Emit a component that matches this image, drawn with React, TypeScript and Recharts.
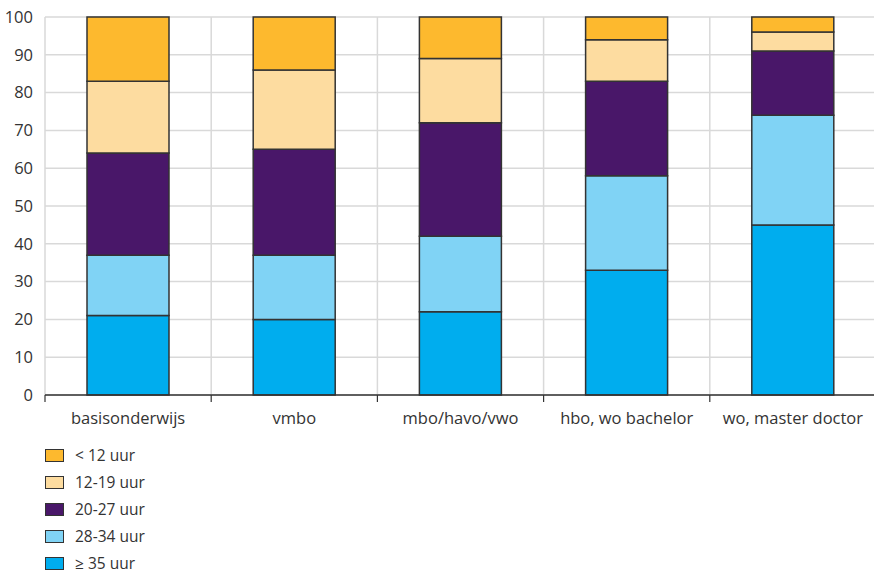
import React from 'react';
import { BarChart, Bar, XAxis, YAxis, CartesianGrid } from 'recharts';

const categories = ['basisonderwijs', 'vmbo', 'mbo/havo/vwo', 'hbo, wo bachelor', 'wo, master doctor'];
const yTicks = [0, 10, 20, 30, 40, 50, 60, 70, 80, 90, 100];

// stacked from the bottom up
const uur35plus = [21, 20, 22, 33, 45];
const uur28to34 = [16, 17, 20, 25, 29];
const uur20to27 = [27, 28, 30, 25, 17];
const uur12to19 = [19, 21, 17, 11, 5];
const uurUnder12 = [17, 14, 11, 6, 4];

const series = [
  { key: 'a', name: '≥ 35 uur', values: uur35plus, color: '#00adee' },
  { key: 'b', name: '28-34 uur', values: uur28to34, color: '#80d3f5' },
  { key: 'c', name: '20-27 uur', values: uur20to27, color: '#491769' },
  { key: 'd', name: '12-19 uur', values: uur12to19, color: '#fddca0' },
  { key: 'e', name: '< 12 uur', values: uurUnder12, color: '#fdb92e' },
];

const data = categories.map((name, i) => {
  const row: Record<string, any> = { name };
  series.forEach(s => { row[s.key] = s.values[i]; });
  return row;
});

const FONT = '"Open Sans", sans-serif';
const CHART_W = 876;
const CHART_H = 440;
const Y_AXIS_W = 45;
const BAND = (CHART_W - Y_AXIS_W) / categories.length;

const CategoryTick = (props: any) => {
  const { x, y, payload, index } = props;
  return (
    <g>
      <line x1={x - BAND / 2} y1={y} x2={x - BAND / 2} y2={y + 7} stroke="#333" strokeWidth={1.2} />
      {index === categories.length - 1 && (
        <line x1={x + BAND / 2} y1={y} x2={x + BAND / 2} y2={y + 7} stroke="#333" strokeWidth={1.2} />
      )}
      <text x={x} y={y + 17} dy="0.71em" textAnchor="middle" fill="#333" fontSize={16.5} fontFamily={FONT}>
        {payload.value}
      </text>
    </g>
  );
};

const App: React.FC = () => {
  return (
    <div style={{ position: 'absolute', left: 0, top: 0, width: 874, height: 575, overflow: 'hidden', background: '#fff' }}>
      <BarChart width={CHART_W} height={CHART_H} data={data} margin={{ top: 17, right: 0, bottom: 0, left: 0 }} barSize={82}>
        <CartesianGrid
          stroke="#d9d9d9"
          strokeWidth={1.5}
          verticalCoordinatesGenerator={({ offset }: any) =>
            categories.map((_, i) => offset.left + (i * offset.width) / categories.length)
          }
        />
        <XAxis
          dataKey="name"
          height={45}
          tickSize={0}
          tickMargin={0}
          tickLine={false}
          axisLine={{ stroke: '#333', strokeWidth: 1.5 }}
          tick={<CategoryTick />}
          interval={0}
        />
        <YAxis
          width={Y_AXIS_W}
          domain={[0, 100]}
          ticks={yTicks}
          interval={0}
          axisLine={false}
          tickLine={false}
          tickMargin={6}
          tick={{ fill: '#333', fontSize: 16.5, fontFamily: FONT }}
        />
        {series.map(s => (
          <Bar
            key={s.key}
            dataKey={s.key}
            name={s.name}
            stackId="x"
            fill={s.color}
            stroke="#333"
            strokeWidth={1.5}
            isAnimationActive={false}
          />
        ))}
      </BarChart>
      <div style={{ position: 'absolute', left: 45, top: 447, fontFamily: FONT, fontSize: 15.5, color: '#333' }}>
        {[...series].reverse().map((s, i) => (
          <div
            key={s.key}
            style={{ display: 'flex', alignItems: 'center', height: 16, lineHeight: '16px', marginTop: i === 0 ? 0 : 11 }}
          >
            <span
              style={{
                display: 'inline-block',
                width: 17,
                height: 11,
                background: s.color,
                border: '1.2px solid #333',
                marginRight: 11,
              }}
            />
            <span>{s.name}</span>
          </div>
        ))}
      </div>
    </div>
  );
};

export default App;
